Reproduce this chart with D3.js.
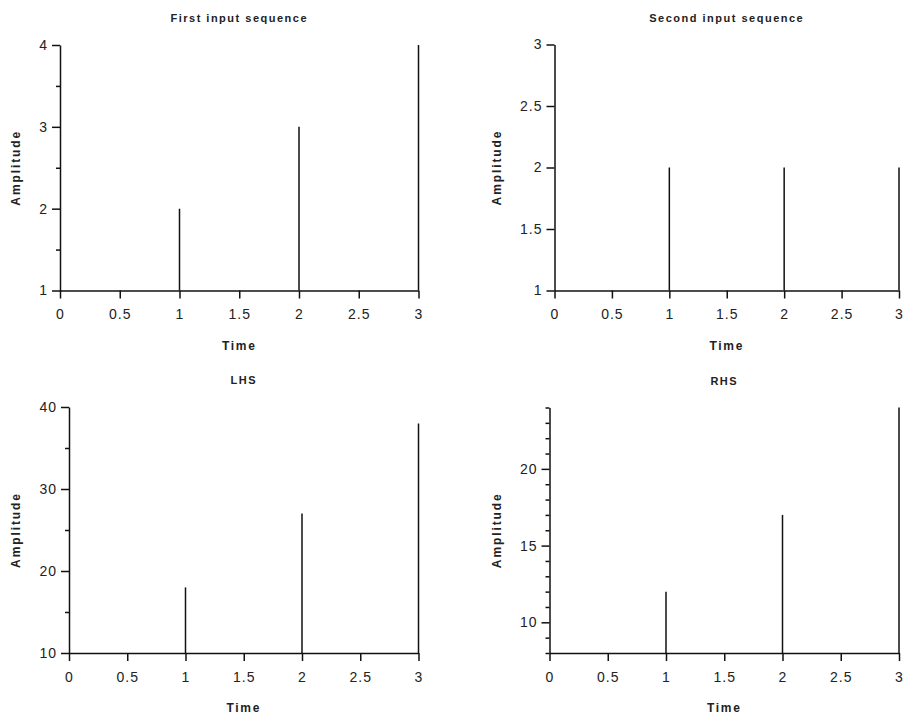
<!DOCTYPE html>
<html><head><meta charset="utf-8">
<script src="https://cdn.jsdelivr.net/npm/d3@7"></script>
<style>
body{margin:0;background:#fff}
svg{display:block}
text{font-family:"Liberation Sans",Arial,sans-serif;fill:#222}
</style></head>
<body>
<svg id="c" width="906" height="719"></svg>
<script>
// ---- data ----
const time = [0, 1, 2, 3];
const firstInput = [1, 2, 3, 4];
const secondInput = [1, 2, 2, 2];
const lhs = [10, 18, 27, 38];
const rhs = [8, 12, 17, 24];
const xTicks = [0, 0.5, 1, 1.5, 2, 2.5, 3];
const titles = ["First input sequence", "Second input sequence", "LHS", "RHS"];
const yDomains = [[1, 4], [1, 3], [10, 40], [8, 24]];
const yMajor = [[1, 2, 3, 4], [1, 1.5, 2, 2.5, 3], [10, 20, 30, 40], [10, 15, 20]];
const yMinor = [[1.5, 2.5, 3.5], [], [15, 25, 35], [8, 9, 11, 12, 13, 14, 16, 17, 18, 19, 21, 22, 23, 24]];
const series = [firstInput, secondInput, lhs, rhs];

// ---- layout ----
const boxes = [
  {l: 60, r: 418.5, t: 45, b: 290.5},
  {l: 554.5, r: 899, t: 44.5, b: 290.5},
  {l: 69, r: 418.5, t: 407, b: 653},
  {l: 549.5, r: 899, t: 407.5, b: 653}
];

const svg = d3.select("#c");
const fmt = d3.format("~g");

boxes.forEach((bx, i) => {
  const x = d3.scaleLinear().domain([0, 3]).range([bx.l, bx.r]);
  const y = d3.scaleLinear().domain(yDomains[i]).range([bx.b, bx.t]);
  const g = svg.append("g");

  const clipId = "clip" + i;
  svg.append("clipPath").attr("id", clipId).append("rect")
    .attr("x", bx.l - 2).attr("y", bx.t - 2).attr("width", bx.r - bx.l + 4).attr("height", bx.b - bx.t + 2);
  const base = Math.max(0, yDomains[i][0]);
  g.append("g").attr("clip-path", `url(#${clipId})`)
    .selectAll("line").data(time).join("line")
    .attr("x1", d => x(d)).attr("x2", d => x(d))
    .attr("y1", y(base)).attr("y2", (d, k) => y(series[i][k]))
    .attr("stroke", "#111").attr("stroke-width", 1.5);

  const xa = g.append("g").attr("transform", `translate(0,${bx.b})`)
    .call(d3.axisBottom(x).tickValues(xTicks).tickFormat(fmt).tickSize(8).tickSizeOuter(0).tickPadding(11));
  g.append("g").attr("transform", `translate(${bx.l},0)`)
    .call(d3.axisLeft(y).tickValues(yMinor[i]).tickFormat("").tickSize(4).tickSizeOuter(0))
    .call(a => a.select(".domain").remove())
    .selectAll("line").attr("stroke", "#111").attr("stroke-width", 1.5);
  const ya = g.append("g").attr("transform", `translate(${bx.l},0)`)
    .call(d3.axisLeft(y).tickValues(yMajor[i]).tickFormat(fmt).tickSize(8).tickSizeOuter(0).tickPadding(4));

  [xa, ya].forEach(a => {
    a.attr("font-size", null).attr("font-family", null);
    a.selectAll("path,line").attr("stroke", "#111").attr("stroke-width", 1.5);
    a.selectAll("text").attr("font-size", "14px").attr("fill", "#333").style("letter-spacing", "1px");
  });

  const cx = (bx.l + bx.r) / 2;
  svg.append("text").attr("x", cx).attr("y", bx.t - 23).attr("text-anchor", "middle")
    .attr("font-size", 11).attr("font-weight", "bold").attr("fill", "#333").style("letter-spacing", "1.5px")
    .text(titles[i]);
  svg.append("text").attr("x", cx).attr("y", bx.b + 59).attr("text-anchor", "middle")
    .attr("font-size", 12).attr("font-weight", "bold").attr("fill", "#333").style("letter-spacing", "1.7px")
    .text("Time");
  const ax = i % 2 === 0 ? 20 : 501;
  svg.append("text").attr("transform", `translate(${ax},${(bx.t + bx.b) / 2}) rotate(-90)`)
    .attr("text-anchor", "middle")
    .attr("font-size", 12).attr("font-weight", "bold").attr("fill", "#333").style("letter-spacing", "1.9px")
    .text("Amplitude");
});
</script>
</body></html>
